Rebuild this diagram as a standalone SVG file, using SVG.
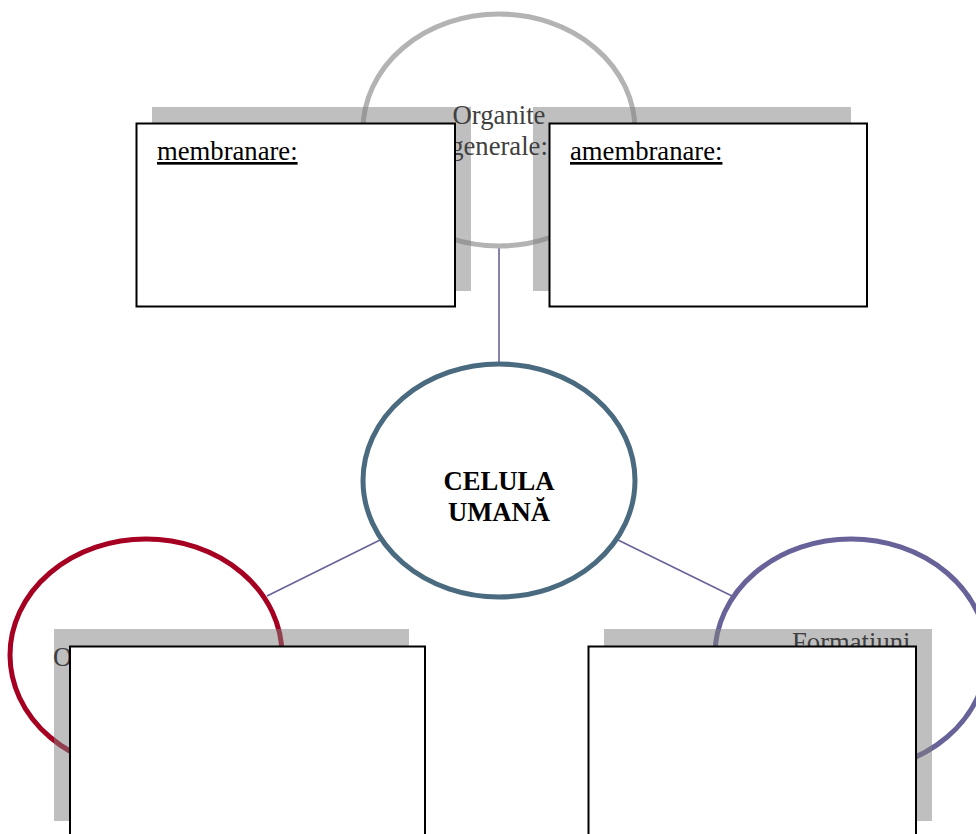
<svg xmlns="http://www.w3.org/2000/svg" width="976" height="834" viewBox="0 0 976 834">
  <style>
    .ring { fill: none; stroke-width: 5; }
    .shadow { fill: #808080; fill-opacity: 0.5; }
    .box { fill: #ffffff; stroke: #000000; stroke-width: 2; }
    .link { stroke: #676399; stroke-width: 1.6; fill: none; }
    .lbl { font-family: "Liberation Serif", "Times New Roman", serif; font-size: 26.67px; fill: #404040; }
    .head { font-family: "Liberation Serif", "Times New Roman", serif; font-size: 26.67px; fill: #000000; text-decoration: underline; }
    .core { font-family: "Liberation Serif", "Times New Roman", serif; font-size: 26.67px; font-weight: bold; fill: #000000; }
  </style>
  <rect width="976" height="834" fill="#ffffff"/>

  <!-- connectors -->
  <g id="connectors">
    <line class="link" x1="499" y1="248" x2="499" y2="363"/>
    <line class="link" x1="380" y1="540" x2="267" y2="596"/>
    <line class="link" x1="618" y1="540" x2="732" y2="596"/>
  </g>

  <!-- top: general organelles -->
  <g id="organite-generale">
    <ellipse class="ring" cx="499" cy="130" rx="136" ry="116" stroke="#b3b3b3"/>
    <rect class="shadow" x="152" y="107" width="319" height="184"/>
    <rect class="shadow" x="533" y="107" width="318" height="184"/>
    <text class="lbl" x="499" y="124" text-anchor="middle">Organite</text>
    <text class="lbl" x="499" y="155" text-anchor="middle">generale:</text>
  </g>
  <g id="membranare">
    <rect class="box" x="136.5" y="123.5" width="318.5" height="183"/>
    <text class="head" x="157" y="160">membranare:</text>
  </g>
  <g id="amembranare">
    <rect class="box" x="549.5" y="123.5" width="317.5" height="183"/>
    <text class="head" x="570" y="160">amembranare:</text>
  </g>

  <!-- centre -->
  <g id="celula-umana">
    <ellipse class="ring" cx="499" cy="480.5" rx="136" ry="116.5" stroke="#4a6a80" fill="#ffffff"/>
    <text class="core" x="499" y="490" text-anchor="middle">CELULA</text>
    <text class="core" x="499" y="521" text-anchor="middle">UMANĂ</text>
  </g>

  <!-- bottom left -->
  <g id="organite-specifice">
    <ellipse class="ring" cx="146" cy="655" rx="136" ry="116" stroke="#a50021"/>
    <rect class="shadow" x="54" y="629" width="355" height="192"/>
    <text class="lbl" x="53" y="666">O</text>
    <rect class="box" x="70" y="646.5" width="355" height="200"/>
  </g>

  <!-- bottom right -->
  <g id="formatiuni">
    <ellipse class="ring" cx="851" cy="655" rx="136" ry="116" stroke="#676399"/>
    <rect class="shadow" x="604" y="629" width="328" height="192"/>
    <text class="lbl" x="792" y="651">Formatiuni</text>
    <rect class="box" x="588.5" y="646.5" width="327.5" height="200"/>
  </g>
</svg>
